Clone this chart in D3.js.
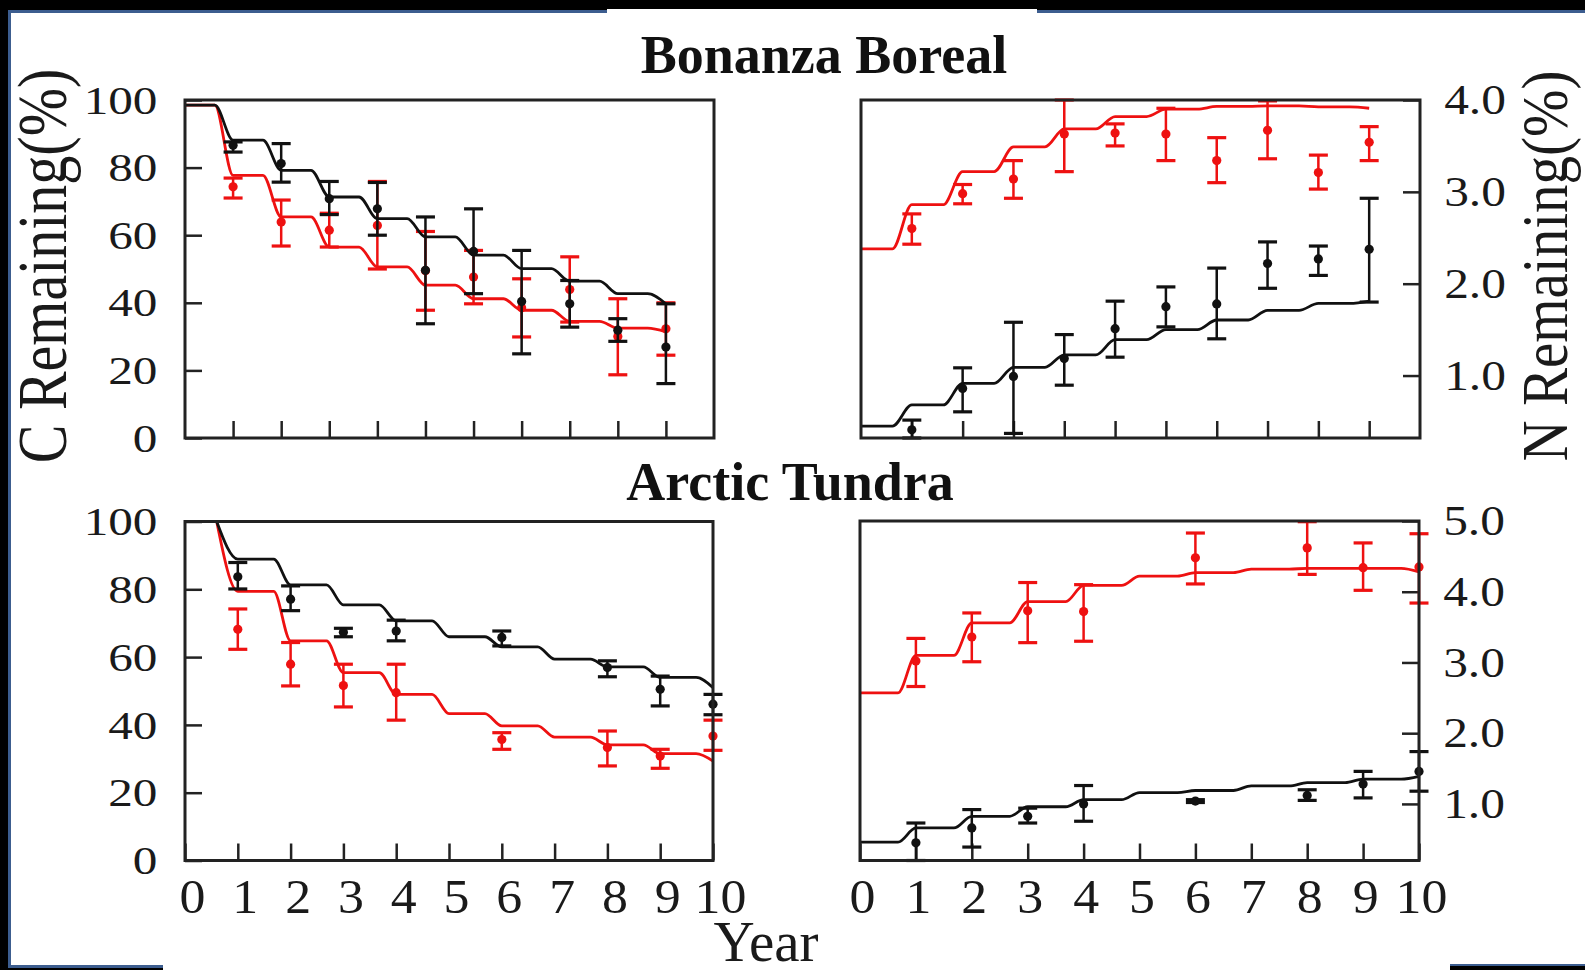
<!DOCTYPE html>
<html>
<head>
<meta charset="utf-8">
<script src="https://cdn.jsdelivr.net/npm/d3@7"></script>
<style>
  html, body { margin: 0; padding: 0; background: #000; }
  svg { display: block; }
</style>
</head>
<body>
<svg id="chart" width="1585" height="970"></svg>
<script>
// ---- data ----
const topXTicks = [1, 2, 3, 4, 5, 6, 7, 8, 9, 10];
const bottomXTicks = [0, 1, 2, 3, 4, 5, 6, 7, 8, 9, 10];
const cTicks = [0, 20, 40, 60, 80, 100];
const nTicksBonanza = [1, 2, 3, 4];
const nTicksTundra = [1, 2, 3, 4, 5];

// Bonanza Boreal samples
const bonanzaYears = [1, 2, 3, 4, 5, 6, 7, 8, 9, 10];
const bonanzaBlackC = [86.6, 81.2, 70.8, 67.8, 49.6, 55.2, 40.4, 39.7, 31.9, 26.9];
const bonanzaBlackCLo = [84.6, 75.7, 66.1, 60.0, 33.8, 42.7, 24.9, 32.8, 28.6, 16.1];
const bonanzaBlackCHi = [87.6, 87.1, 75.9, 75.6, 65.4, 67.8, 55.5, 46.6, 35.3, 39.7];
const bonanzaRedC = [74.3, 63.9, 61.5, 62.9, 49.5, 47.6, 38.5, 43.9, 30.0, 32.3];
const bonanzaRedCLo = [71.0, 56.8, 56.5, 50.0, 37.8, 39.7, 29.9, 34.3, 18.7, 24.5];
const bonanzaRedCHi = [76.9, 70.4, 66.5, 75.9, 61.1, 55.5, 47.1, 53.6, 41.2, 40.0];
const bonanzaRedN = [2.60, 2.98, 3.14, 3.63, 3.64, 3.63, 3.34, 3.67, 3.21, 3.54];
const bonanzaRedNLo = [2.43, 2.87, 2.93, 3.22, 3.50, 3.34, 3.10, 3.36, 3.03, 3.34];
const bonanzaRedNHi = [2.76, 3.08, 3.34, 4.04, 3.74, 3.91, 3.59, 3.99, 3.40, 3.71];
const bonanzaBlackN = [0.41, 0.86, 0.99, 1.185, 1.51, 1.75, 1.78, 2.22, 2.27, 2.375];
const bonanzaBlackNLo = [0.31, 0.605, 0.37, 0.895, 1.20, 1.53, 1.40, 1.95, 2.09, 1.80];
const bonanzaBlackNHi = [0.515, 1.084, 1.58, 1.446, 1.81, 1.965, 2.17, 2.455, 2.41, 2.93];

// Bonanza model curves
const bonanzaModelYears = [0, 0.62, 1, 1.62, 2, 2.62, 3, 3.62, 4, 4.62, 5, 5.62, 6, 6.62, 7, 7.62, 8, 8.62, 9, 9.62, 10];
const bonanzaBlackCModel = [98.5, 98.5, 88.1, 88.1, 79.2, 79.2, 71.3, 71.3, 64.9, 64.9, 59.5, 59.5, 54.1, 54.1, 50.1, 50.1, 46.4, 46.4, 42.7, 42.7, 39.7];
const bonanzaRedCModel = [98.5, 98.5, 77.7, 77.7, 65.4, 65.4, 56.5, 56.5, 50.6, 50.6, 45.2, 45.2, 41.2, 41.2, 37.8, 37.8, 34.5, 34.5, 32.5, 32.5, 31.4];
const bonanzaRedNModel = [2.38, 2.38, 2.86, 2.86, 3.22, 3.22, 3.49, 3.49, 3.685, 3.685, 3.82, 3.82, 3.90, 3.90, 3.93, 3.93, 3.935, 3.935, 3.925, 3.925, 3.91];
const bonanzaBlackNModel = [0.45, 0.45, 0.68, 0.68, 0.915, 0.915, 1.09, 1.09, 1.225, 1.225, 1.39, 1.39, 1.50, 1.50, 1.605, 1.605, 1.71, 1.71, 1.785, 1.785, 1.81];

// Arctic Tundra samples
const tundraYears = [1, 2, 3, 4, 6, 8, 9, 10];
const tundraBlackC = [83.7, 77.1, 67.3, 67.7, 65.8, 56.9, 50.5, 46.1];
const tundraBlackCLo = [80.1, 73.7, 66.0, 64.8, 63.3, 54.2, 45.6, 43.0];
const tundraBlackCHi = [87.9, 81.0, 68.5, 70.9, 67.7, 58.9, 54.4, 49.0];
const tundraRedC = [68.2, 57.9, 51.6, 49.5, 35.7, 33.3, 30.8, 36.7];
const tundraRedCLo = [62.3, 51.5, 45.3, 41.4, 32.8, 27.9, 27.2, 32.5];
const tundraRedCHi = [74.2, 64.3, 57.9, 57.9, 37.7, 38.2, 32.8, 41.4];
const tundraRedN = [3.02, 3.36, 3.73, 3.72, 4.48, 4.62, 4.34, 4.35];
const tundraRedNLo = [2.66, 3.01, 3.28, 3.30, 4.11, 4.245, 4.02, 3.84];
const tundraRedNHi = [3.34, 3.70, 4.13, 4.10, 4.83, 4.99, 4.69, 4.82];
const tundraBlackN = [0.45, 0.66, 0.825, 1.0, 1.04, 1.12, 1.28, 1.46];
const tundraBlackNLo = [0.17, 0.39, 0.73, 0.755, 1.02, 1.05, 1.085, 1.18];
const tundraBlackNHi = [0.73, 0.92, 0.94, 1.26, 1.06, 1.20, 1.46, 1.74];

// Arctic Tundra model curves
const tundraCModelYears = [0.6, 1, 1.68, 2, 2.68, 3, 3.68, 4, 4.68, 5, 5.68, 6, 6.68, 7, 7.68, 8, 8.68, 9, 9.68, 10];
const tundraBlackCModel = [100, 88.9, 88.9, 81.3, 81.3, 75.4, 75.4, 70.7, 70.7, 66.0, 66.0, 63.0, 63.0, 59.4, 59.4, 57.1, 57.1, 54.0, 54.0, 51.0];
const tundraRedCModel = [100, 79.4, 79.4, 64.8, 64.8, 55.4, 55.4, 49.0, 49.0, 43.3, 43.3, 39.7, 39.7, 36.4, 36.4, 34.1, 34.1, 31.5, 31.5, 29.3];
const tundraNModelYears = [0, 0.68, 1, 1.68, 2, 2.68, 3, 3.68, 4, 4.68, 5, 5.68, 6, 6.68, 7, 7.68, 8, 8.68, 9, 9.68, 10];
const tundraRedNModel = [2.57, 2.57, 3.10, 3.10, 3.56, 3.56, 3.86, 3.86, 4.09, 4.09, 4.22, 4.22, 4.27, 4.27, 4.32, 4.32, 4.33, 4.33, 4.33, 4.33, 4.28];
const tundraBlackNModel = [0.46, 0.46, 0.66, 0.66, 0.825, 0.825, 0.96, 0.96, 1.06, 1.06, 1.16, 1.16, 1.19, 1.19, 1.255, 1.255, 1.30, 1.30, 1.35, 1.35, 1.39];

const RED = '#ee1111';
const BLACK = '#111';
const SERIF = '"Liberation Serif", "Times New Roman", serif';

const svg = d3.select('#chart');

// ---- page frame (black surround, blue rules, white sheet) ----
const frame = svg.append('g');
frame.append('rect').attr('x', 0).attr('y', 0).attr('width', 1585).attr('height', 970).attr('fill', '#000');
frame.append('rect').attr('x', 11).attr('y', 12).attr('width', 1574).attr('height', 958).attr('fill', '#fff');
frame.append('rect').attr('x', 607).attr('y', 9).attr('width', 430).attr('height', 4).attr('fill', '#fff');
frame.append('rect').attr('x', 8).attr('y', 10).attr('width', 599).attr('height', 3).attr('fill', '#3c5d8f');
frame.append('rect').attr('x', 1037).attr('y', 10).attr('width', 548).attr('height', 3).attr('fill', '#3c5d8f');
frame.append('rect').attr('x', 8).attr('y', 10).attr('width', 3).attr('height', 958).attr('fill', '#3c5d8f');
frame.append('rect').attr('x', 0).attr('y', 968).attr('width', 163).attr('height', 2).attr('fill', '#000');
frame.append('rect').attr('x', 8).attr('y', 965).attr('width', 155).attr('height', 3).attr('fill', '#3c5d8f');
frame.append('rect').attr('x', 1450).attr('y', 966).attr('width', 135).attr('height', 4).attr('fill', '#000');
frame.append('rect').attr('x', 1450).attr('y', 964).attr('width', 135).attr('height', 2).attr('fill', '#3c5d8f');

function styleAxis(g, fontSize, stretch, dx) {
    g.select('.domain').remove();
    g.selectAll('.tick line').attr('stroke', '#222').attr('stroke-width', 2.5);
    g.selectAll('.tick text')
        .attr('font-family', SERIF)
        .attr('font-size', fontSize)
        .attr('fill', '#1a1a1a')
        .attr('dx', (dx || 0) / stretch)
        .attr('transform', `scale(${stretch},1)`);
}

function drawPanel(p) {
    const g = svg.append('g');
    const x = d3.scaleLinear().domain(p.xDomain).range([p.left, p.right]);
    const y = d3.scaleLinear().domain(p.yDomain).range([p.bottom, p.top]).clamp(true);

    // y axis, ticks pointing inward
    if (p.ySide === 'left') {
        g.append('g')
            .attr('transform', `translate(${p.left},0)`)
            .call(d3.axisLeft(y).tickValues(p.yTicks).tickSize(-17).tickPadding(23).tickFormat(d3.format('d')))
            .call((a) => styleAxis(a, 41, 1.2));
    } else {
        g.append('g')
            .attr('transform', `translate(${p.right},0)`)
            .call(d3.axisRight(y).tickValues(p.yTicks).tickSize(-17).tickPadding(21).tickFormat(d3.format('.1f')))
            .call((a) => styleAxis(a, 43, 1.15));
    }

    // x axis, ticks pointing up from the bottom edge
    const xAxis = d3.axisBottom(x).tickValues(p.xTicks).tickSize(-17).tickPadding(18);
    if (!p.xLabels) xAxis.tickFormat(() => '');
    g.append('g')
        .attr('transform', `translate(0,${p.bottom})`)
        .call(xAxis)
        .call((a) => styleAxis(a, 48, 1.08, p.xLabelDx));

    const line = d3.line()
        .x((d) => x(d[0]))
        .y((d) => y(d[1]))
        .curve(d3.curveMonotoneX);

    p.series.forEach((s) => {
        g.append('path')
            .datum(d3.zip(s.modelYears, s.model))
            .attr('d', line)
            .attr('fill', 'none')
            .attr('stroke', s.color)
            .attr('stroke-width', 2.8);

        const pts = s.years.map((yr, i) => ({ yr, v: s.values[i], lo: s.lo[i], hi: s.hi[i] }));
        const bars = g.append('g').attr('stroke', s.color).attr('fill', s.color);
        bars.selectAll('line.err')
            .data(pts)
            .join('line')
            .attr('class', 'err')
            .attr('x1', (d) => x(d.yr))
            .attr('x2', (d) => x(d.yr))
            .attr('y1', (d) => y(d.lo))
            .attr('y2', (d) => y(d.hi))
            .attr('stroke-width', 2.5);
        ['lo', 'hi'].forEach((k) => {
            bars.selectAll('line.cap-' + k)
                .data(pts)
                .join('line')
                .attr('class', 'cap-' + k)
                .attr('x1', (d) => x(d.yr) - 9.5)
                .attr('x2', (d) => x(d.yr) + 9.5)
                .attr('y1', (d) => y(d[k]))
                .attr('y2', (d) => y(d[k]))
                .attr('stroke-width', 3.2);
        });
        bars.selectAll('circle')
            .data(pts)
            .join('circle')
            .attr('cx', (d) => x(d.yr))
            .attr('cy', (d) => y(d.v))
            .attr('r', 4.6)
            .attr('stroke', 'none');
    });

    // frame of the panel
    g.append('rect')
        .attr('x', p.left)
        .attr('y', p.top)
        .attr('width', p.right - p.left)
        .attr('height', p.bottom - p.top)
        .attr('fill', 'none')
        .attr('stroke', '#222')
        .attr('stroke-width', 3);
}

drawPanel({
    left: 185, right: 714, top: 100, bottom: 438,
    xDomain: [0, 11], yDomain: [0, 100],
    xTicks: topXTicks, xLabels: false,
    yTicks: cTicks, ySide: 'left',
    series: [
        { color: RED, modelYears: bonanzaModelYears, model: bonanzaRedCModel, years: bonanzaYears, values: bonanzaRedC, lo: bonanzaRedCLo, hi: bonanzaRedCHi },
        { color: BLACK, modelYears: bonanzaModelYears, model: bonanzaBlackCModel, years: bonanzaYears, values: bonanzaBlackC, lo: bonanzaBlackCLo, hi: bonanzaBlackCHi }
    ]
});

drawPanel({
    left: 861, right: 1420, top: 100, bottom: 438,
    xDomain: [0, 11], yDomain: [0.32, 4.0],
    xTicks: topXTicks, xLabels: false,
    yTicks: nTicksBonanza, ySide: 'right',
    series: [
        { color: RED, modelYears: bonanzaModelYears, model: bonanzaRedNModel, years: bonanzaYears, values: bonanzaRedN, lo: bonanzaRedNLo, hi: bonanzaRedNHi },
        { color: BLACK, modelYears: bonanzaModelYears, model: bonanzaBlackNModel, years: bonanzaYears, values: bonanzaBlackN, lo: bonanzaBlackNLo, hi: bonanzaBlackNHi }
    ]
});

drawPanel({
    left: 185, right: 713, top: 521.5, bottom: 860.5,
    xDomain: [0, 10], yDomain: [0, 100],
    xTicks: bottomXTicks, xLabels: true, xLabelDx: 7,
    yTicks: cTicks, ySide: 'left',
    series: [
        { color: RED, modelYears: tundraCModelYears, model: tundraRedCModel, years: tundraYears, values: tundraRedC, lo: tundraRedCLo, hi: tundraRedCHi },
        { color: BLACK, modelYears: tundraCModelYears, model: tundraBlackCModel, years: tundraYears, values: tundraBlackC, lo: tundraBlackCLo, hi: tundraBlackCHi }
    ]
});

drawPanel({
    left: 860, right: 1419, top: 521, bottom: 860.5,
    xDomain: [0, 10], yDomain: [0.2, 5.0],
    xTicks: bottomXTicks, xLabels: true, xLabelDx: 2,
    yTicks: nTicksTundra, ySide: 'right',
    series: [
        { color: RED, modelYears: tundraNModelYears, model: tundraRedNModel, years: tundraYears, values: tundraRedN, lo: tundraRedNLo, hi: tundraRedNHi },
        { color: BLACK, modelYears: tundraNModelYears, model: tundraBlackNModel, years: tundraYears, values: tundraBlackN, lo: tundraBlackNLo, hi: tundraBlackNHi }
    ]
});

// ---- titles and axis names ----
const txt = svg.append('g').attr('font-family', SERIF).attr('fill', '#111');

txt.append('text').attr('x', 824).attr('y', 73).attr('text-anchor', 'middle')
    .attr('font-size', 54).attr('font-weight', 'bold').text('Bonanza Boreal');
txt.append('text').attr('x', 790).attr('y', 500).attr('text-anchor', 'middle')
    .attr('font-size', 54).attr('font-weight', 'bold').text('Arctic Tundra');
txt.append('text').attr('x', 766).attr('y', 961).attr('text-anchor', 'middle')
    .attr('font-size', 57).attr('fill', '#1a1a1a').text('Year');
txt.append('text').attr('transform', 'translate(66,266) rotate(-90) scale(1,1.2)')
    .attr('text-anchor', 'middle').attr('font-size', 58).attr('fill', '#1a1a1a').text('C Remaining(%)');
txt.append('text').attr('transform', 'translate(1567,266) rotate(-90) scale(1,1.15)')
    .attr('text-anchor', 'middle').attr('font-size', 57).attr('fill', '#1a1a1a').text('N Remaining(%)');
</script>
</body>
</html>
